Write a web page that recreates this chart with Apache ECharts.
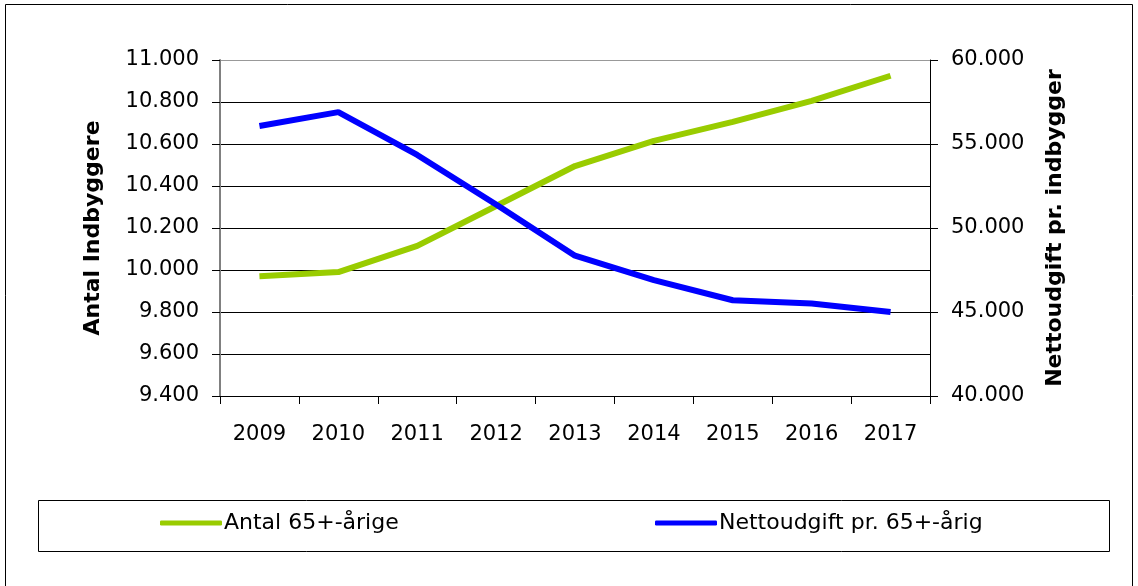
<!DOCTYPE html>
<html>
<head>
<meta charset="utf-8">
<script src="https://cdn.jsdelivr.net/npm/echarts@6/dist/echarts.min.js"></script>
<style>
  html, body { margin: 0; padding: 0; background: #fff; }
  #chart { width: 1138px; height: 586px; }
</style>
</head>
<body>
<div id="chart"></div>
<script>
const years = ["2009", "2010", "2011", "2012", "2013", "2014", "2015", "2016", "2017"];
const antal65 = [9970, 9990, 10115, 10305, 10495, 10615, 10705, 10805, 10925];
const nettoudgift = [56070, 56900, 54350, 51400, 48350, 46900, 45700, 45500, 45000];

const font = "DejaVu Sans";
const green = "#99CC00";
const blue = "#0000FF";

// thousands separator like "11.000"
function dotFormat(v) {
  return String(v).replace(/\B(?=(\d{3})+(?!\d))/g, ".");
}

const chart = echarts.init(document.getElementById("chart"));

const options = {
  animation: false,
  backgroundColor: "#fff",
  textStyle: { fontFamily: font },
  grid: { left: 220, right: 208, top: 60, bottom: 190 },
  graphic: [
    {
      type: "rect",
      shape: { x: 5.5, y: 4.5, width: 1127, height: 600 },
      style: { fill: null, stroke: "#000", lineWidth: 1 },
    },
    {
      type: "rect",
      shape: { x: 38.5, y: 500.5, width: 1071, height: 51 },
      style: { fill: null, stroke: "#000", lineWidth: 1 },
    },
  ],
  legend: [
    {
      data: ["Antal 65+-årige"],
      left: 160,
      top: 512,
      padding: 0,
      icon: "roundRect",
      itemWidth: 62,
      itemHeight: 5,
      itemGap: 0,
      textStyle: { fontFamily: font, fontSize: 22, color: "#000", padding: [0, 0, 0, -3] },
    },
    {
      data: ["Nettoudgift pr. 65+-årig"],
      left: 655,
      top: 512,
      padding: 0,
      icon: "roundRect",
      itemWidth: 62,
      itemHeight: 5,
      itemGap: 0,
      textStyle: { fontFamily: font, fontSize: 22, color: "#000", padding: [0, 0, 0, -3] },
    },
  ],
  xAxis: {
    type: "category",
    data: years,
    boundaryGap: true,
    axisLine: { lineStyle: { color: "#000", width: 1 } },
    axisTick: { show: true, length: 8, lineStyle: { color: "#000" } },
    axisLabel: { fontFamily: font, fontSize: 21, color: "#000", margin: 28 },
  },
  yAxis: [
    {
      type: "value",
      min: 9400,
      max: 11000,
      interval: 200,
      name: "Antal Indbyggere",
      nameLocation: "middle",
      nameGap: 116,
      nameTextStyle: { fontFamily: font, fontSize: 22, fontWeight: "bold", color: "#000" },
      axisLine: { show: true, lineStyle: { color: "#808080", width: 2 } },
      axisTick: { show: true, length: 8, lineStyle: { color: "#000" } },
      axisLabel: { fontFamily: font, fontSize: 21, color: "#000", margin: 21, formatter: dotFormat },
      splitLine: {
        show: true,
        lineStyle: {
          color: ["#000", "#000", "#000", "#000", "#000", "#000", "#000", "#000", "#999"],
          width: 1,
        },
      },
    },
    {
      type: "value",
      min: 40000,
      max: 60000,
      interval: 5000,
      name: "Nettoudgift pr. indbygger",
      nameLocation: "middle",
      nameGap: 114,
      nameRotate: 90,
      nameTextStyle: { fontFamily: font, fontSize: 22, fontWeight: "bold", color: "#000" },
      axisLine: { show: true, lineStyle: { color: "#000", width: 1 } },
      axisTick: { show: true, length: 8, lineStyle: { color: "#000" } },
      axisLabel: { fontFamily: font, fontSize: 21, color: "#000", margin: 21, formatter: dotFormat },
      splitLine: { show: false },
    },
  ],
  series: [
    {
      name: "Antal 65+-årige",
      type: "line",
      yAxisIndex: 0,
      data: antal65,
      symbol: "none",
      color: green,
      lineStyle: { color: green, width: 6 },
    },
    {
      name: "Nettoudgift pr. 65+-årig",
      type: "line",
      yAxisIndex: 1,
      data: nettoudgift,
      symbol: "none",
      color: blue,
      lineStyle: { color: blue, width: 6 },
    },
  ],
};

chart.setOption(options);
</script>
</body>
</html>
